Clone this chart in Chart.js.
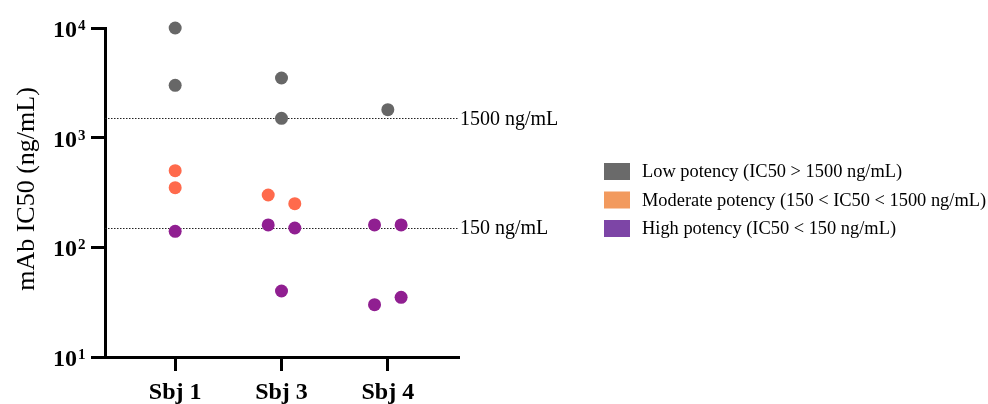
<!DOCTYPE html>
<html>
<head>
<meta charset="utf-8">
<script src="https://cdn.jsdelivr.net/npm/chart.js@4.4.1/dist/chart.umd.min.js"></script>
<style>
  html, body { margin: 0; padding: 0; background: #ffffff; }
  #wrap { width: 988px; height: 404px; }
</style>
</head>
<body>
<div id="wrap"><canvas id="c" width="988" height="404"></canvas></div>
<script>
// ---- Data ----
const categories = ['Sbj 1', 'Sbj 3', 'Sbj 4'];
const lowPotency = [[10000, 3000], [3500, 1500], [1800]];
const moderatePotency = [[500, 350], [300, 250], []];
const highPotency = [[140], [160, 150, 40], [160, 160, 30, 35]];
const yTickValues = [10, 100, 1000, 10000];
const yTickExponents = ['1', '2', '3', '4'];
const thresholdValues = [1500, 150];
const thresholdLabels = ['1500 ng/mL', '150 ng/mL'];
const seriesNames = ['Low potency', 'Moderate potency', 'High potency'];
const legendLabels = [
  'Low potency (IC50 > 1500 ng/mL)',
  'Moderate potency (150 < IC50 < 1500 ng/mL)',
  'High potency (IC50 < 150 ng/mL)'
];
const yTitle = 'mAb IC50 (ng/mL)';

// ---- Styles ----
const pointColors = ['#676767', '#FF6A4C', '#901F91'];
const legendColors = ['#6A6A6A', '#F29A5E', '#7D45A6'];
const SERIF = "'Liberation Serif', 'Times New Roman', serif";

// simple beeswarm: points in the same column with close values are spread sideways
function swarm(seriesList) {
  const out = seriesList.map(() => []);
  categories.forEach((cat, c) => {
    const items = [];
    seriesList.forEach((s, si) => (s[c] || []).forEach(v => items.push({ si, v, order: items.length })));
    const sorted = items.slice().sort((a, b) => a.v - b.v);
    const clusters = [];
    sorted.forEach(it => {
      const last = clusters[clusters.length - 1];
      if (last && Math.abs(Math.log10(it.v) - Math.log10(last[last.length - 1].v)) < 0.12) last.push(it);
      else clusters.push([it]);
    });
    clusters.forEach(cl => {
      cl.sort((a, b) => a.order - b.order);
      const n = cl.length;
      cl.forEach((it, i) => {
        out[it.si].push({ x: c + (i - (n - 1) / 2) * 0.25, y: it.v });
      });
    });
  });
  return out;
}

const pts = swarm([lowPotency, moderatePotency, highPotency]);

const overlay = {
  id: 'overlay',
  beforeDatasetsDraw(chart) {
    const { ctx, chartArea, scales } = chart;
    ctx.save();
    ctx.strokeStyle = '#222222';
    ctx.lineWidth = 1;
    ctx.setLineDash([1.5, 1.5]);
    thresholdValues.forEach(v => {
      const y = Math.round(scales.y.getPixelForValue(v)) + 0.5;
      ctx.beginPath();
      ctx.moveTo(chartArea.left, y);
      ctx.lineTo(chartArea.right, y);
      ctx.stroke();
    });
    ctx.restore();
  },
  afterDraw(chart) {
    const { ctx, chartArea, scales } = chart;
    ctx.save();
    ctx.fillStyle = '#000';
    // threshold labels
    ctx.font = '20px ' + SERIF;
    ctx.textAlign = 'left';
    ctx.textBaseline = 'middle';
    thresholdValues.forEach((v, i) => {
      const y = scales.y.getPixelForValue(v);
      ctx.fillText(thresholdLabels[i], chartArea.right + 2, y + 1);
    });
    // y tick labels with superscripts
    yTickValues.forEach((v, i) => {
      const y = scales.y.getPixelForValue(v);
      ctx.font = 'bold 24px ' + SERIF;
      ctx.textAlign = 'right';
      ctx.textBaseline = 'alphabetic';
      ctx.fillText('10', 77, y + 9);
      ctx.font = 'bold 15px ' + SERIF;
      ctx.textAlign = 'left';
      ctx.fillText(yTickExponents[i], 78, y + 2);
    });
    // y title
    ctx.save();
    ctx.translate(27, 189);
    ctx.rotate(-Math.PI / 2);
    ctx.font = '26px ' + SERIF;
    ctx.textAlign = 'center';
    ctx.textBaseline = 'middle';
    ctx.fillText(yTitle, 0, 0);
    ctx.restore();
    // legend
    const rows = [171.5, 200, 228.5];
    legendLabels.forEach((t, i) => {
      ctx.fillStyle = legendColors[i];
      ctx.fillRect(604, rows[i] - 8.5, 26, 17);
      ctx.fillStyle = '#000';
      ctx.font = '18.4px ' + SERIF;
      ctx.textAlign = 'left';
      ctx.textBaseline = 'middle';
      ctx.fillText(t, 642, rows[i] + 1);
    });
    ctx.restore();
  }
};

new Chart(document.getElementById('c'), {
  type: 'scatter',
  data: {
    datasets: seriesNames.map((name, i) => ({
      label: name,
      data: pts[i],
      backgroundColor: pointColors[i],
      borderWidth: 0,
      pointRadius: 6.5,
      pointHoverRadius: 6.5,
      clip: false
    }))
  },
  options: {
    responsive: false,
    animation: false,
    devicePixelRatio: 1,
    layout: { padding: { left: 0, right: 530, top: 28, bottom: 0 } },
    plugins: { legend: { display: false }, tooltip: { enabled: false } },
    scales: {
      x: {
        type: 'linear',
        min: -0.66,
        max: 2.66,
        afterBuildTicks: s => { s.ticks = categories.map((c, i) => ({ value: i })); },
        afterFit: s => { s.height = 47; },
        ticks: {
          callback: v => categories[v],
          color: '#000',
          font: { family: SERIF, size: 24, weight: 'bold' },
          padding: 7,
          maxRotation: 0,
          autoSkip: false
        },
        grid: { display: true, drawOnChartArea: false, drawTicks: true, tickLength: 14, lineWidth: 3, color: '#000' },
        border: { display: true, width: 3, color: '#000' }
      },
      y: {
        type: 'logarithmic',
        min: 10,
        max: 10000,
        afterBuildTicks: s => { s.ticks = yTickValues.map(v => ({ value: v, major: true })); },
        afterFit: s => { s.width = 105; },
        ticks: { display: false },
        grid: { display: true, drawOnChartArea: false, drawTicks: true, tickLength: 14, lineWidth: 3, color: '#000' },
        border: { display: true, width: 3, color: '#000' }
      }
    }
  },
  plugins: [overlay]
});
</script>
</body>
</html>
